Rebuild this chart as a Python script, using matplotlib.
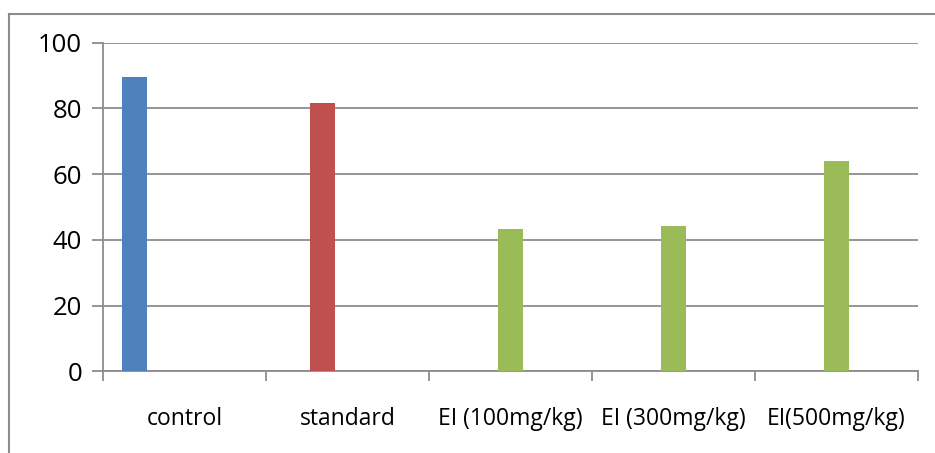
import matplotlib
matplotlib.use("Agg")
import matplotlib.pyplot as plt
from matplotlib.lines import Line2D
import numpy as np

categories = ["control", "standard", "EI (100mg/kg)", "EI (300mg/kg)", "EI(500mg/kg)"]
values = [89.7, 81.6, 43.4, 44.2, 64.1]
series_index = [0, 1, 2, 2, 2]
colors = ["#4F81BD", "#C0504D", "#9BBB59", "#9BBB59", "#9BBB59"]
yticks = [0, 20, 40, 60, 80, 100]

plt.rcParams['font.family'] = ['Open Sans', 'DejaVu Sans']

fig = plt.figure(figsize=(9.35, 4.53), dpi=100)
ax = fig.add_axes([103/935, (453-371.3)/453, (918-103)/935, (371.3-42.7)/453])

n_series = 5
bw = 1/(n_series + 1.5)
x = np.arange(len(categories))
offsets = np.array([-0.5 + (1.25 + i)*bw for i in series_index])
ax.bar(x + offsets, values, width=bw, color=colors, zorder=3)

ax.set_xlim(-0.5, len(categories) - 0.5)
ax.set_ylim(0, 100)
ax.set_yticks(yticks)
ax.yaxis.grid(True, color="#8C8C8C", linewidth=1.3, zorder=0)
ax.set_axisbelow(True)

ax.set_xticks(np.arange(-0.5, len(categories), 1.0))
ax.set_xticklabels([])
ax.set_xticks(x, minor=True)
ax.set_xticklabels(categories, minor=True, fontsize=16.5)
ax.tick_params(axis='x', which='minor', length=0, pad=26)
ax.tick_params(axis='x', which='major', length=7, width=1.3, color="#8C8C8C", direction='out')
ax.tick_params(axis='y', length=8, width=1.3, color="#8C8C8C", direction='out', labelsize=18.5, pad=7)

for s in ['top', 'right']:
    ax.spines[s].set_visible(False)
for s in ['left', 'bottom']:
    ax.spines[s].set_color("#8C8C8C")
    ax.spines[s].set_linewidth(1.3)

# outer chart border (top and left visible)
fig.add_artist(Line2D([8.5/935, 8.5/935], [0, (453-13.5)/453], color="#8C8C8C", linewidth=1.5, transform=fig.transFigure))
fig.add_artist(Line2D([8.5/935, 1.0], [(453-13.5)/453, (453-13.5)/453], color="#8C8C8C", linewidth=1.5, transform=fig.transFigure))

fig.savefig("out.png", dpi=100)
